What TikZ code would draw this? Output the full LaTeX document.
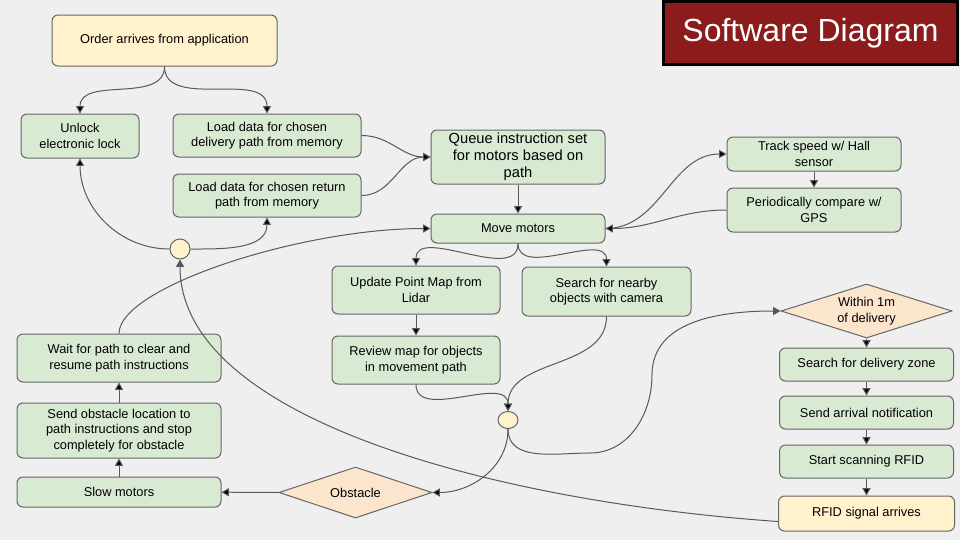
\documentclass[tikz,border=0pt]{standalone}
\usepackage{fontspec}
\setmainfont{Liberation Sans}
\usetikzlibrary{arrows.meta,positioning,shapes.geometric}

\definecolor{bggray}{HTML}{EFEFEF}
\definecolor{boxgreen}{HTML}{D9EAD3}
\definecolor{boxyellow}{HTML}{FFF2CC}
\definecolor{boxpeach}{HTML}{FCE5CD}
\definecolor{titlered}{HTML}{8C1B1B}
\definecolor{edgegray}{HTML}{666666}
\definecolor{linegray}{HTML}{595959}

\begin{document}
\begin{tikzpicture}[x=0.75pt,y=-0.75pt,>={Triangle[length=5.5pt,width=6pt]},
                    line width=0.75pt,
                    box/.style={draw=edgegray,fill=boxgreen,rounded corners=4.5pt,
                                align=center,inner sep=1pt,
                                font=\fontsize{9.6}{11.7}\selectfont},
                    event/.style={box,fill=boxyellow},
                    decision/.style={diamond,draw=edgegray,fill=boxpeach,align=center,
                                     inner sep=0pt,shape aspect=3.2,
                                     font=\fontsize{9.6}{11.7}\selectfont},
                    merge/.style={draw=edgegray,fill=boxyellow,inner sep=0pt},
                    flow/.style={->,draw=linegray}]
  \useasboundingbox (0,0) rectangle (960,540);
  \fill[bggray] (0,0) rectangle (960,540);

  \node[draw=black,line width=2.25pt,fill=titlered,text=white,minimum width=220.5pt,
        minimum height=47pt,font=\fontsize{24}{28}\selectfont] (TT) at (810.5,33) {Software Diagram};

  % order and path loading
  \node[event,minimum width=168.75pt,minimum height=38.25pt] (O) at (164.5,40.5) {Order arrives from application};
  \node[box,minimum width=88.5pt,minimum height=33pt]     (U)  at (80,136)    {Unlock\\electronic lock};
  \node[box,minimum width=141pt,minimum height=32.25pt]   (LD) at (267,135.5) {Load data for chosen\\delivery path from memory};
  \node[box,minimum width=141pt,minimum height=32.25pt]   (LR) at (267,195.5) {Load data for chosen return\\path from memory};
  \node[box,minimum width=130.5pt,minimum height=40.5pt,
        font=\fontsize{11}{12.7}\selectfont]              (Q)  at (518,157)   {Queue instruction set\\for motors based on\\path};
  \node[box,minimum width=130.5pt,minimum height=21.75pt] (M)  at (518,228.5) {Move motors};
  \node[box,minimum width=130.5pt,minimum height=25.5pt]  (T)  at (814,154)   {Track speed w/ Hall\\sensor};
  \node[box,minimum width=130.5pt,minimum height=33pt]    (P)  [below=12pt of T] {Periodically compare w/\\GPS};
  \node[box,minimum width=126pt,minimum height=36pt]      (UP) at (416,290)   {Update Point Map from\\Lidar};
  \node[box,minimum width=126pt,minimum height=36pt]      (RV) [below=15.75pt of UP] {Review map for objects\\in movement path};
  \node[box,minimum width=126.75pt,minimum height=36.75pt] (S) at (606.5,291.5) {Search for nearby\\objects with camera};
  \node[merge,circle,minimum size=15pt]                   (J1) at (180,249)   {};
  \node[merge,ellipse,minimum width=15pt,minimum height=12.75pt] (J2) at (508,420) {};

  % delivery zone
  \node[decision,minimum width=128.25pt,minimum height=40.5pt] (W) at (866.5,311) {Within 1m\\of delivery};
  \node[box,minimum width=130.5pt,minimum height=24.75pt] (Z)  [below=6.75pt of W]   {Search for delivery zone};
  \node[box,minimum width=130.5pt,minimum height=24.75pt] (N)  [below=10.5pt of Z]   {Send arrival notification};
  \node[box,minimum width=130.5pt,minimum height=24.75pt] (SR) [below=11.25pt of N]  {Start scanning RFID};
  \node[event,minimum width=132pt,minimum height=26.25pt] (RF) [below=12.75pt of SR] {RFID signal arrives};

  % obstacle handling
  \node[decision,minimum width=114.75pt,minimum height=38.25pt,shape aspect=3] (OB) at (355.5,492.5) {Obstacle};
  \node[box,minimum width=153pt,minimum height=22.5pt]  (SM) at (119,492) {Slow motors};
  \node[box,minimum width=153pt,minimum height=41.25pt] (SO) [above=13.5pt of SM] {Send obstacle location to\\path instructions and stop\\completely for obstacle};
  \node[box,minimum width=153pt,minimum height=36pt]    (WT) [above=15pt of SO] {Wait for path to clear and\\resume path instructions};

  \path[flow] (O)  edge[out=-90,in=90] (U)
                   edge[out=-90,in=90] (LD)
              (LD) edge[out=0,in=180] (Q)
              (LR) edge[out=0,in=180] (Q)
              (Q)  edge (M)
              (M)  edge[out=0,in=180] (T)
                   edge[out=-90,in=90] (UP)
                   edge[out=-90,in=90] (S)
              (T)  edge (P)
              (P)  edge[out=180,in=0] (M)
              (UP) edge (RV)
              (RV) edge[out=-90,in=90] (J2)
              (S)  edge[out=-90,in=90] (J2)
              (J2) edge[out=-90,in=0] (OB)
              (OB) edge (SM)
              (SM) edge (SO)
              (SO) edge (WT)
              (WT) edge[out=90,in=180,out distance=34.5pt,in distance=98pt] (M)
              (J1) edge[out=180,in=-90] (U)
                   edge[out=0,in=-90] (LR)
              (W)  edge (Z)
              (Z)  edge (N)
              (N)  edge (SR)
              (SR) edge (RF);

  \draw[flow] (J2) to[out=-90,in=180] (590,453) to[out=0,in=-90] (652,375) to[out=90,in=180] (W);
  \draw[flow] ([yshift=-6pt]RF.west) to[out=176,in=-90,out distance=208pt,in distance=121pt] (J1);

\end{tikzpicture}
\end{document}
